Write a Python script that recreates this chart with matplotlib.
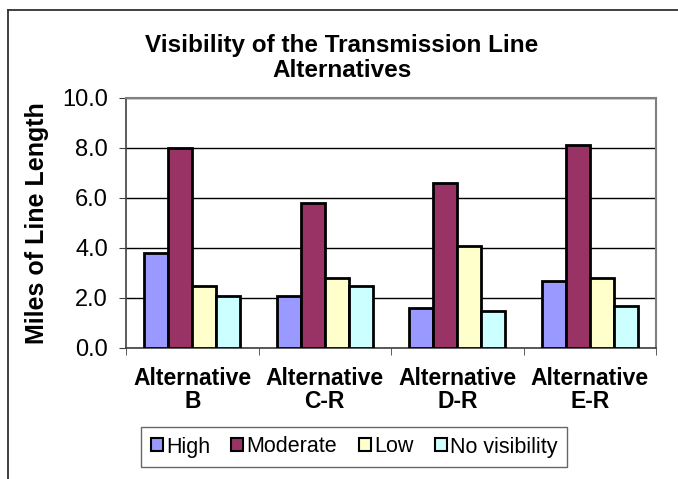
import matplotlib.pyplot as plt
import numpy as np
from matplotlib.lines import Line2D

plt.rcParams['font.family'] = ['Liberation Sans', 'DejaVu Sans']

categories = ['Alternative\nB', 'Alternative\nC-R', 'Alternative\nD-R', 'Alternative\nE-R']
series = ['High', 'Moderate', 'Low', 'No visibility']
high = [3.8, 2.1, 1.6, 2.7]
moderate = [8.0, 5.8, 6.6, 8.1]
low = [2.5, 2.8, 4.1, 2.8]
no_visibility = [2.1, 2.5, 1.5, 1.7]
colors = ['#9999FF', '#993366', '#FFFFCC', '#CCFFFF']

W, H = 678, 479
fig = plt.figure(figsize=(W / 100, H / 100), dpi=100)
ax = fig.add_axes([126 / W, 1 - 348 / H, 530 / W, 250 / H])

# outer chart border (only top and left are inside the picture)
fig.add_artist(Line2D([8 / W, 1], [1 - 10 / H, 1 - 10 / H], transform=fig.transFigure,
                      color='#303030', linewidth=1.3))
fig.add_artist(Line2D([8 / W, 8 / W], [0, 1 - 10 / H], transform=fig.transFigure,
                      color='#303030', linewidth=1.3))

x = np.arange(len(categories))
w = 0.181
values = [high, moderate, low, no_visibility]
for i, (name, vals) in enumerate(zip(series, values)):
    ax.bar(x + (i - 1.5) * w, vals, w, color=colors[i], edgecolor='black',
           linewidth=2, label=name, zorder=3)

ax.set_xlim(-0.5, 3.5)
ax.set_ylim(0, 10)
yt = np.arange(0, 10.1, 2)
ax.set_yticks(yt)
ax.set_yticklabels([f'{v:.1f}' for v in yt], fontsize=17)
ax.yaxis.grid(True, color='black', linewidth=1, zorder=0)
ax.set_xticks(x)
ax.set_xticklabels(categories, fontsize=16.5, fontweight='bold', linespacing=1.0)
ax.set_xticks(np.arange(-0.5, 4, 1), minor=True)
ax.tick_params(axis='x', which='major', length=0, pad=14)
ax.tick_params(axis='x', which='minor', length=5, color='#404040')
ax.tick_params(axis='y', length=5, color='#404040', pad=8)

for side in ['top', 'right']:
    ax.spines[side].set_color('#808080')
    ax.spines[side].set_linewidth(1.5)
for side in ['left', 'bottom']:
    ax.spines[side].set_color('#404040')
    ax.spines[side].set_linewidth(1.2)

ax.set_ylabel('Miles of Line Length', fontsize=18, fontweight='bold')
ax.yaxis.set_label_coords(49 / W, 1 - 223 / H, transform=fig.transFigure)

fig.text(342 / W, 1 - 58 / H, 'Visibility of the Transmission Line\nAlternatives',
         ha='center', va='center', fontsize=17.5, fontweight='bold', linespacing=1.15)

leg = fig.legend(loc='center', bbox_to_anchor=(354 / W, 1 - 447 / H), ncol=4,
                 fontsize=15.5, frameon=True, fancybox=False, handlelength=0.55,
                 handleheight=0.55, handletextpad=0.15, columnspacing=1.0,
                 borderpad=0.45)
leg.get_frame().set_edgecolor('#404040')
leg.get_frame().set_linewidth(1)
for h in leg.legend_handles:
    h.set_linewidth(1.5)

fig.savefig('out.png', dpi=100)
